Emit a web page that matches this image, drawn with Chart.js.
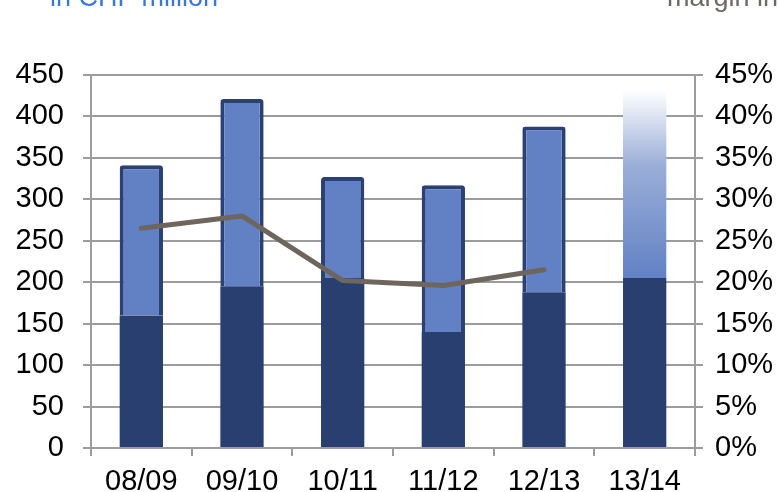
<!DOCTYPE html>
<html>
<head>
<meta charset="utf-8">
<script src="https://cdn.jsdelivr.net/npm/chart.js@4"></script>
<style>
  html, body { margin: 0; padding: 0; background: #fff; }
  #wrap { position: relative; width: 778px; height: 492px; }
</style>
</head>
<body>
<div id="wrap"><canvas id="chart" width="778" height="492"></canvas></div>
<script>
//Chart data
var years = ['08/09', '09/10', '10/11', '11/12', '12/13', '13/14'];
var baseValues = [160, 195, 205, 140, 188, 205];
var topValues = [181, 226, 122, 177, 200, 227];
var marginValues = [0.265, 0.28, 0.202, 0.196, 0.215, null];
var leftTitle = 'in CHF million';
var rightTitle = 'margin in';

var FONT = "'Liberation Sans', Arial, sans-serif";
var GRID = '#9c9c9c';

//Last bar fades out to white
function topColor(ctx) {
	if (ctx.dataIndex !== years.length - 1) return '#6281c4';
	var chart = ctx.chart;
	var area = chart.chartArea;
	if (!area) return '#6281c4';
	var y = chart.scales.y;
	var g = chart.ctx.createLinearGradient(0, y.getPixelForValue(baseValues[ctx.dataIndex]), 0, y.getPixelForValue(baseValues[ctx.dataIndex] + topValues[ctx.dataIndex]));
	g.addColorStop(0, '#6281c4');
	g.addColorStop(0.6, '#9aaed8');
	g.addColorStop(1, '#ffffff');
	return g;
}

var titles = {
	id: 'titles',
	afterDraw: function(chart) {
		var c = chart.ctx;
		c.save();
		c.font = '27px ' + FONT;
		c.textBaseline = 'alphabetic';
		c.textAlign = 'left';
		c.fillStyle = '#3a78d2';
		c.fillText(leftTitle, 50, 6);
		c.fillStyle = '#6e6862';
		c.fillText(rightTitle, 667, 6);
		c.restore();
	}
};

var chart = new Chart(document.getElementById('chart'), {
	type: 'bar',
	data: {
		labels: years,
		datasets: [{
			data: baseValues,
			yAxisID: 'y',
			order: 1,
			backgroundColor: '#293f6f',
			borderWidth: 0,
			barPercentage: 0.86,
			categoryPercentage: 0.5
		}, {
			data: topValues,
			yAxisID: 'y',
			order: 2,
			backgroundColor: topColor,
			borderColor: '#2b4175',
			borderWidth: function(ctx) {
				return ctx.dataIndex === years.length - 1 ? 0 : {top: 4, left: 4, right: 4, bottom: 0};
			},
			borderRadius: function(ctx) {
				return ctx.dataIndex === years.length - 1 ? 0 : {topLeft: 3, topRight: 3};
			},
			borderSkipped: false,
			barPercentage: 0.86,
			categoryPercentage: 0.5
		}, {
			type: 'line',
			data: marginValues,
			yAxisID: 'y1',
			order: 0,
			borderColor: '#6e665d',
			borderWidth: 5,
			pointRadius: 0,
			tension: 0,
			borderCapStyle: 'round',
			borderJoinStyle: 'round'
		}]
	},
	options: {
		responsive: false,
		animation: false,
		layout: { padding: { top: 75 } },
		scales: {
			x: {
				stacked: true,
				afterFit: function(s) { s.height = 44; },
				grid: {
					offset: true,
					drawOnChartArea: false,
					tickLength: 8,
					color: GRID,
					lineWidth: 2
				},
				border: { color: GRID, width: 2 },
				ticks: {
					color: '#000',
					padding: 9,
					font: { family: FONT, size: 29 }
				}
			},
			y: {
				stacked: true,
				position: 'left',
				min: 0,
				max: 450,
				afterFit: function(s) { s.width = 91; },
				grid: {
					color: GRID,
					lineWidth: 2,
					tickLength: 8
				},
				border: { color: GRID, width: 2 },
				ticks: {
					stepSize: 50,
					color: '#000',
					padding: 19,
					font: { family: FONT, size: 29 }
				}
			},
			y1: {
				position: 'right',
				min: 0,
				max: 0.45,
				afterFit: function(s) { s.width = 83; },
				grid: {
					drawOnChartArea: false,
					color: GRID,
					lineWidth: 2,
					tickLength: 8
				},
				border: { color: GRID, width: 2 },
				ticks: {
					stepSize: 0.05,
					color: '#000',
					padding: 12,
					font: { family: FONT, size: 29 },
					callback: function(v) { return Math.round(v * 100) + '%'; }
				}
			}
		},
		plugins: {
			legend: { display: false },
			tooltip: { enabled: false }
		}
	},
	plugins: [titles]
});
</script>
</body>
</html>
